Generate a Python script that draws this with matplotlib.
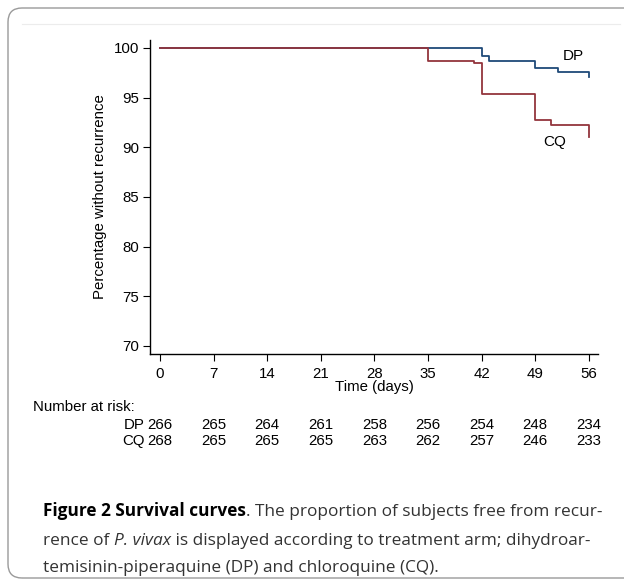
import matplotlib
matplotlib.use("Agg")
import matplotlib.pyplot as plt
from matplotlib.patches import FancyBboxPatch
from matplotlib.lines import Line2D
from matplotlib.transforms import IdentityTransform, blended_transform_factory

# Data
dp_days = [0, 42, 43, 49, 52, 56]
dp_surv = [100, 99.2, 98.7, 98.0, 97.55, 97.1]
cq_days = [0, 35, 41, 42, 49, 51, 56]
cq_surv = [100, 98.7, 98.45, 95.4, 92.7, 92.25, 91.0]
xticks = [0, 7, 14, 21, 28, 35, 42, 49, 56]
yticks = [70, 75, 80, 85, 90, 95, 100]
risk_dp = [266, 265, 264, 261, 258, 256, 254, 248, 234]
risk_cq = [268, 265, 265, 265, 263, 262, 257, 246, 233]

W, H = 624, 580
fig = plt.figure(figsize=(W/100, H/100), dpi=100)
plt.rcParams['font.family'] = ['Liberation Sans', 'DejaVu Sans']

def fx(px):
    return px / W
def fy(py):
    return 1 - py / H

# frame
box = FancyBboxPatch((8, 2), 700, 570, boxstyle="round,pad=0,rounding_size=14",
                     transform=IdentityTransform(), fill=False, edgecolor='#9a9a9a', lw=1.0)
fig.add_artist(box)
fig.add_artist(Line2D([fx(22), fx(620)], [fy(24), fy(24)], color='#ececec', lw=0.8,
                      transform=fig.transFigure))

ax = fig.add_axes([fx(150), fy(354), fx(598) - fx(150), fy(40) - fy(354)])
blue = '#1f4a78'
red = '#93353d'
ax.plot(dp_days, dp_surv, drawstyle='steps-post', color=blue, lw=1.3)
ax.plot(cq_days, cq_surv, drawstyle='steps-post', color=red, lw=1.3)
ax.set_xlim(-1.3, 57.2)
ax.set_ylim(69.19, 100.8)
ax.set_xticks(xticks)
ax.set_yticks(yticks)
ax.tick_params(direction='out', length=5, width=0.8, labelsize=10.8, pad=3)
ax.tick_params(axis='x', pad=4)
for s in ['top', 'right']:
    ax.spines[s].set_visible(False)
for s in ['left', 'bottom']:
    ax.spines[s].set_linewidth(1.0)
ax.set_ylabel('Percentage without recurrence', fontsize=10.8, labelpad=5)
ax.set_xlabel('Time (days)', fontsize=10.8, labelpad=0)

ax.text(54, 99.2, 'DP', fontsize=11, ha='center', va='center')
ax.text(51.5, 90.5, 'CQ', fontsize=11, ha='center', va='center')

# number at risk
fig.text(fx(33), fy(407), 'Number at risk:', fontsize=10.8, ha='left', va='center')
tr = blended_transform_factory(ax.transData, fig.transFigure)
fig.text(fx(145), fy(425), 'DP', fontsize=10.8, ha='right', va='center')
fig.text(fx(145), fy(441), 'CQ', fontsize=10.8, ha='right', va='center')
for d, a, b in zip(xticks, risk_dp, risk_cq):
    fig.text(d, fy(425), str(a), transform=tr, fontsize=10.8, ha='center', va='center')
    fig.text(d, fy(441), str(b), transform=tr, fontsize=10.8, ha='center', va='center')

# caption
cap_font = ['Open Sans', 'DejaVu Sans']
cap_size = 12.4
cap_color = '#333333'
renderer = fig.canvas.get_renderer()

def draw_line(segments, x0px, ypx):
    x = x0px
    for txt, weight, style in segments:
        t = fig.text(fx(x), fy(ypx), txt, fontsize=cap_size, family=cap_font,
                     fontweight=weight, fontstyle=style, ha='left', va='baseline',
                     color='black' if weight == 'bold' else cap_color)
        bb = t.get_window_extent(renderer=renderer)
        x += bb.width

draw_line([('Figure 2 Survival curves', 'bold', 'normal'),
           ('. The proportion of subjects free from recur-', 'normal', 'normal')], 43, 516)
draw_line([('rence of ', 'normal', 'normal'), ('P. vivax', 'normal', 'italic'),
           (' is displayed according to treatment arm; dihydroar-', 'normal', 'normal')], 43, 545)
draw_line([('temisinin-piperaquine (DP) and chloroquine (CQ).', 'normal', 'normal')], 43, 572)

fig.savefig('out.png', dpi=100)
